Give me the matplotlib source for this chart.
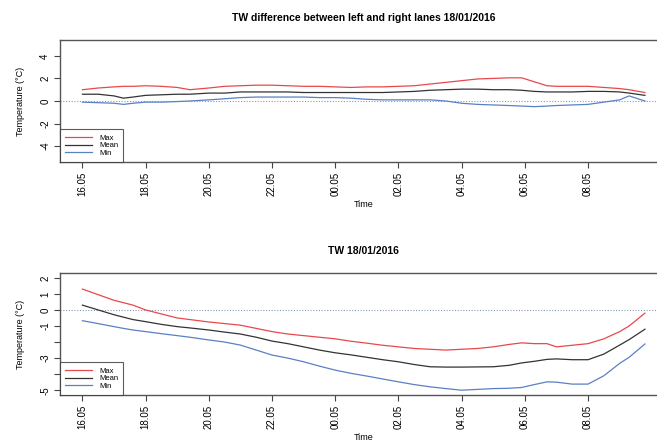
import matplotlib.pyplot as plt
import numpy as np

plt.rcParams['font.family'] = ['Liberation Sans', 'DejaVu Sans']

# hours since 16:05
hours = [0, 0.5, 1, 1.3, 1.6, 2, 2.5, 3, 3.4, 4, 4.5, 5, 5.5, 6, 6.5, 7, 7.5, 8, 8.5,
         9, 9.5, 10, 10.5, 11, 11.5, 12, 12.5, 13, 13.5, 13.9, 14.3, 14.7, 15, 15.5,
         16, 16.5, 17, 17.3, 17.8]

# top panel: difference between left and right lanes
diff_max = [1.0, 1.15, 1.25, 1.3, 1.3, 1.35, 1.3, 1.2, 1.0, 1.15, 1.3, 1.35, 1.4, 1.4,
            1.35, 1.3, 1.3, 1.25, 1.2, 1.25, 1.25, 1.3, 1.35, 1.5, 1.65, 1.8, 1.95, 2.0,
            2.05, 2.05, 1.7, 1.35, 1.3, 1.3, 1.3, 1.2, 1.1, 1.0, 0.75]
diff_mean = [0.6, 0.6, 0.45, 0.25, 0.35, 0.5, 0.55, 0.6, 0.6, 0.7, 0.7, 0.8, 0.8, 0.8,
             0.8, 0.75, 0.75, 0.75, 0.75, 0.75, 0.75, 0.8, 0.85, 0.95, 1.0, 1.05, 1.05,
             1.0, 1.0, 0.95, 0.85, 0.8, 0.8, 0.8, 0.85, 0.85, 0.8, 0.7, 0.5]
diff_min = [-0.1, -0.15, -0.2, -0.3, -0.2, -0.1, -0.1, -0.05, 0.0, 0.1, 0.2, 0.3, 0.35,
            0.35, 0.35, 0.35, 0.3, 0.3, 0.25, 0.15, 0.1, 0.1, 0.1, 0.1, 0.0, -0.2, -0.3,
            -0.35, -0.4, -0.45, -0.5, -0.45, -0.4, -0.35, -0.3, -0.1, 0.1, 0.45, 0.0]

# bottom panel: TW
tw_max = [1.3, 0.95, 0.6, 0.45, 0.3, 0.0, -0.25, -0.5, -0.6, -0.75, -0.85, -0.95, -1.15,
          -1.35, -1.5, -1.6, -1.7, -1.8, -1.95, -2.07, -2.2, -2.3, -2.4, -2.45, -2.5,
          -2.45, -2.4, -2.3, -2.15, -2.05, -2.1, -2.1, -2.3, -2.2, -2.1, -1.8, -1.35,
          -1.0, -0.2]
tw_mean = [0.3, 0.0, -0.3, -0.45, -0.6, -0.73, -0.9, -1.04, -1.12, -1.25, -1.38, -1.5,
           -1.7, -1.94, -2.1, -2.3, -2.5, -2.67, -2.8, -2.95, -3.1, -3.23, -3.4, -3.54,
           -3.56, -3.56, -3.55, -3.54, -3.45, -3.3, -3.2, -3.08, -3.05, -3.1, -3.1,
           -2.75, -2.19, -1.85, -1.2]
tw_min = [-0.67, -0.85, -1.04, -1.15, -1.25, -1.35, -1.48, -1.6, -1.7, -1.87, -2.0,
          -2.19, -2.5, -2.81, -3.0, -3.23, -3.5, -3.75, -3.95, -4.12, -4.3, -4.48, -4.65,
          -4.79, -4.9, -5.0, -4.95, -4.9, -4.88, -4.83, -4.65, -4.48, -4.5, -4.62, -4.62,
          -4.1, -3.33, -2.95, -2.12]

tick_pos = [0, 2, 4, 6, 8, 10, 12, 14, 16]
tick_labels = ['16.05', '18.05', '20.05', '22.05', '00.05', '02.05', '04.05', '06.05', '08.05']

c_max = '#e8484c'
c_mean = '#333333'
c_min = '#5a80c4'

fig = plt.figure(figsize=(6.57, 4.42), dpi=100)
ax1 = fig.add_axes([0.0913, 0.6335, 0.924, 0.276])
ax2 = fig.add_axes([0.0913, 0.1063, 0.924, 0.276])


def style(ax, title, yticks, ylabels, ylim):
    ax.axhline(0, color='#8a9ab0', lw=0.8, ls=(0, (1, 1.5)), zorder=1)
    ax.set_xlim(-0.71, 18.5)
    ax.set_ylim(*ylim)
    ax.set_xticks(tick_pos)
    ax.set_xticklabels(tick_labels, rotation=90, fontsize=7)
    ax.set_yticks(yticks)
    ax.set_yticklabels(ylabels, rotation=90, fontsize=7, va='center')
    ax.tick_params(length=4, width=0.8, color='#444444', pad=3)
    for s in ax.spines.values():
        s.set_color('#555555')
        s.set_linewidth(1.0)
    ax.set_title(title, fontsize=7.5, fontweight='bold', pad=14)
    ax.set_xlabel('Time', fontsize=6.5, labelpad=3)
    ax.set_ylabel('Temperature (°C)', fontsize=6.5, labelpad=11)
    leg = ax.legend(loc='lower left', fontsize=5.5, frameon=True, fancybox=False,
                    borderaxespad=0, handlelength=3.5, labelspacing=0.0,
                    borderpad=0.7, handletextpad=0.9)
    leg.get_frame().set_edgecolor('#333333')
    leg.get_frame().set_linewidth(0.8)


ax1.plot(hours, diff_max, color=c_max, lw=0.9, label='Max')
ax1.plot(hours, diff_mean, color=c_mean, lw=0.9, label='Mean')
ax1.plot(hours, diff_min, color=c_min, lw=0.9, label='Min')
style(ax1, 'TW difference between left and right lanes 18/01/2016',
      [-4, -2, 0, 2, 4], ['-4', '-2', '0', '2', '4'], (-5.4, 5.4))

ax2.plot(hours, tw_max, color=c_max, lw=0.9, label='Max')
ax2.plot(hours, tw_mean, color=c_mean, lw=0.9, label='Mean')
ax2.plot(hours, tw_min, color=c_min, lw=0.9, label='Min')
style(ax2, 'TW 18/01/2016', [2, 1, 0, -1, -2, -3, -4, -5],
      ['2', '1', '0', '-1', '', '-3', '', '-5'], (-5.3, 2.3))

fig.savefig('out.png', dpi=100)
